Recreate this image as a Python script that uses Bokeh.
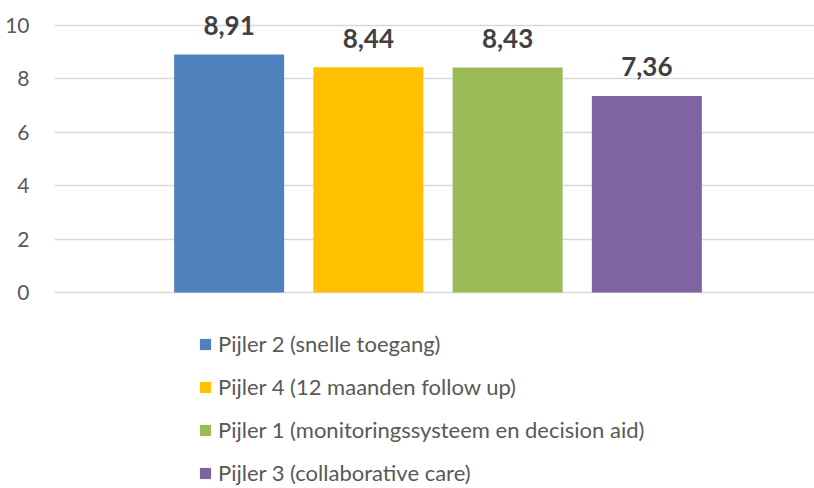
from bokeh.plotting import figure
from bokeh.models import ColumnDataSource, Legend, LegendItem, Range1d
from bokeh.core.properties import value
from bokeh.embed import file_html
from bokeh.resources import INLINE

series = ["Pijler 2 (snelle toegang)", "Pijler 4 (12 maanden follow up)",
          "Pijler 1 (monitoringssysteem en decision aid)", "Pijler 3 (collaborative care)"]
values = [8.91, 8.44, 8.43, 7.36]
labels = ["8,91", "8,44", "8,43", "7,36"]
colors = ["#4F81BD", "#FFC000", "#9BBB59", "#8064A2"]
positions = [1, 2, 3, 4]
yticks = [0, 2, 4, 6, 8, 10]

FONT = "Lato"

p = figure(width=814, height=488, output_backend="svg", toolbar_location=None,
           x_range=Range1d(-0.254, 5.204), y_range=Range1d(-7.34, 10.936),
           min_border_left=54, min_border_right=0, min_border_top=0, min_border_bottom=0)
p.outline_line_color = None
p.xaxis.visible = False
p.xgrid.visible = False
p.ygrid.grid_line_color = "#D9D9D9"
p.ygrid.grid_line_width = 1.3
p.yaxis.ticker = yticks
p.yaxis.axis_line_color = None
p.yaxis.major_tick_line_color = None
p.yaxis.minor_tick_line_color = None
p.yaxis.major_label_text_font = FONT
p.yaxis.major_label_text_font_size = "21px"
p.yaxis.major_label_text_color = "#595959"
p.yaxis.major_label_standoff = 19

items = []
for i in range(4):
    src = ColumnDataSource(dict(x=[positions[i]], top=[values[i]], lab=[labels[i]]))
    r = p.vbar(x="x", top="top", bottom=0, width=0.79, source=src,
               fill_color=colors[i], line_color=None)
    p.text(x="x", y="top", text="lab", source=src, text_align="center",
           text_baseline="alphabetic", y_offset=-29, text_font=value(FONT),
           text_font_style="bold", text_font_size="26px", text_color="#404040")
    items.append(LegendItem(label=series[i], renderers=[r]))

legend = Legend(items=items, orientation="vertical", location=(144, 2),
                label_text_font=FONT, label_text_font_size="22px",
                label_text_color="#595959", glyph_width=14, glyph_height=14,
                label_height=22, spacing=16, border_line_color=None,
                background_fill_alpha=0, padding=0, margin=0, label_standoff=6)
p.add_layout(legend, "center")

open("out.html", "w").write(file_html(p, INLINE))
